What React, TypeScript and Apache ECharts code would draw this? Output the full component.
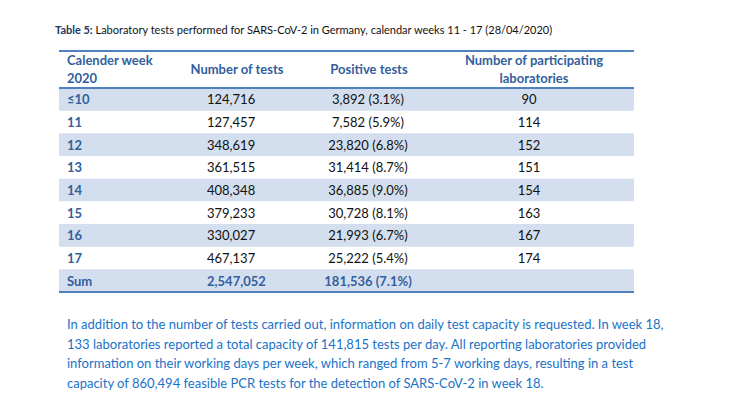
import React, { useEffect, useRef } from "react";
import * as echarts from "echarts";

const weeks = ["≤10", "11", "12", "13", "14", "15", "16", "17", "Sum"];
const tests = [124716, 127457, 348619, 361515, 408348, 379233, 330027, 467137, 2547052];
const positives = [3892, 7582, 23820, 31414, 36885, 30728, 21993, 25222, 181536];
const positiveShares = ["3.1", "5.9", "6.8", "8.7", "9.0", "8.1", "6.7", "5.4", "7.1"];
const laboratories: (number | null)[] = [90, 114, 152, 151, 154, 163, 167, 174, null];
const headers = [
  ["Calender week", "2020"],
  ["Number of tests"],
  ["Positive tests"],
  ["Number of participating", "laboratories"],
];
const titleBold = "Table 5:";
const titleText = " Laboratory tests performed for SARS-CoV-2 in Germany, calendar weeks 11 - 17 (28/04/2020)";
const paragraph = [
  "In addition to the number of tests carried out, information on daily test capacity is requested. In week 18,",
  "133 laboratories reported a total capacity of 141,815 tests per day. All reporting laboratories provided",
  "information on their working days per week, which ranged from 5-7 working days, resulting in a test",
  "capacity of 860,494 feasible PCR tests for the detection of SARS-CoV-2 in week 18.",
];

const FONT = "Lato";
const fmt = (n: number) => n.toLocaleString("en-US");

export default function App() {
  const ref = useRef<HTMLDivElement>(null);
  useEffect(() => {
    if (!ref.current) return;
    const chart = echarts.init(ref.current, undefined, { renderer: "svg" });
    const gridLeft = 59;
    const gridRight = 634;
    const gridTop = 88;
    const gridBottom = 292;
    const lineColor = "#4f81bd";
    const headBlue = "#33609c";
    const shade = "#d3dfee";
    const colX = [8, 148, 309, 470]; // anchors within grid
    const headerCenters = [gridLeft + 8, 237, 369, 534];

    const headerGraphics: any[] = [];
    headers.forEach((lines, ci) => {
      lines.forEach((t, li) => {
        const y = lines.length === 1 ? 69 : li === 0 ? 60 : 78;
        headerGraphics.push({
          type: "text",
          x: headerCenters[ci],
          y,
          style: {
            text: t,
            fill: headBlue,
            font: `bold 13px ${FONT}`,
            textAlign: ci === 0 ? "left" : "center",
            textVerticalAlign: "middle",
          },
        });
      });
    });

    const paraGraphics = paragraph.map((t, i) => ({
      type: "text",
      x: 67,
      y: 324 + i * 19.7,
      style: {
        text: t,
        fill: "#1a72c8",
        font: `13px ${FONT}`,
        textVerticalAlign: "middle",
      },
    }));

    const hline = (y: number, w: number) => ({
      type: "line",
      shape: { x1: gridLeft, y1: y, x2: gridRight, y2: y },
      style: { stroke: lineColor, lineWidth: w },
      z: 10,
    });

    chart.setOption({
      animation: false,
      backgroundColor: "#ffffff",
      grid: { left: gridLeft, right: 731 - gridRight, top: gridTop, bottom: 414 - gridBottom },
      xAxis: { type: "value", min: 0, max: gridRight - gridLeft, show: false },
      yAxis: { type: "category", data: weeks, inverse: true, show: false },
      series: [
        {
          type: "custom",
          data: weeks.map((_, i) => [0, i]),
          encode: { x: 0, y: 1 },
          renderItem: (params: any, api: any) => {
            const i = api.value(1);
            const c = api.coord([0, i]);
            const h = api.size([0, 1])[1];
            const x0 = c[0];
            const cy = c[1];
            const isSum = weeks[i] === "Sum";
            const children: any[] = [];
            if (i % 2 === 0) {
              children.push({
                type: "rect",
                shape: { x: x0, y: cy - h / 2, width: gridRight - gridLeft, height: h },
                style: { fill: shade },
              });
            }
            const cells = [
              { t: weeks[i], x: colX[0], align: "left", bold: true, blue: true },
              { t: fmt(tests[i]), x: colX[1], align: "left", bold: isSum, blue: isSum },
              { t: `${fmt(positives[i])} (${positiveShares[i]}%)`, x: colX[2], align: "center", bold: isSum, blue: isSum },
              { t: laboratories[i] == null ? "" : String(laboratories[i]), x: colX[3], align: "center", bold: false, blue: false },
            ];
            cells.forEach((cell) => {
              if (!cell.t) return;
              children.push({
                type: "text",
                x: x0 + cell.x,
                y: cy,
                style: {
                  text: cell.t,
                  fill: cell.blue ? headBlue : "#111111",
                  font: `${cell.bold ? "bold " : ""}13px ${FONT}`,
                  textAlign: cell.align,
                  textVerticalAlign: "middle",
                },
              });
            });
            return { type: "group", children };
          },
        },
      ],
      graphic: [
        {
          type: "text",
          x: 55,
          y: 29,
          style: {
            text: `{b|${titleBold}}{r|${titleText}}`,
            textVerticalAlign: "middle",
            rich: {
              b: { font: `bold 11px ${FONT}`, fill: "#1f3864", color: "#1f3864" },
              r: { font: `11px ${FONT}`, fill: "#111111", color: "#111111" },
            },
          },
        },
        hline(51, 2),
        hline(gridTop, 2),
        hline(gridBottom, 2),
        ...headerGraphics,
        ...paraGraphics,
      ],
    });
    return () => chart.dispose();
  }, []);
  return (
    <div
      ref={ref}
      style={{ position: "fixed", left: 0, top: 0, width: 731, height: 414, background: "#fff" }}
    />
  );
}
